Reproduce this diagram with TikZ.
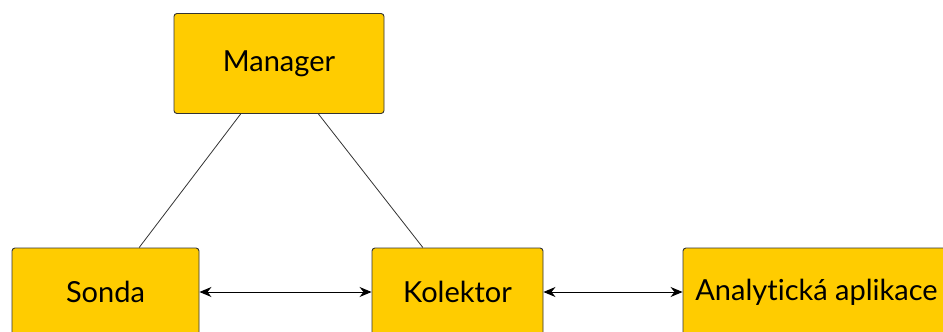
\documentclass[tikz,border=0pt]{standalone}
\usepackage{fontspec}
\setmainfont{Lato}[Ligatures={NoCommon,NoDiscretionary,NoContextual}]
\usetikzlibrary{arrows.meta}
\definecolor{boxfill}{HTML}{FFCC00}
\definecolor{edge}{HTML}{333333}
\begin{document}
\begin{tikzpicture}[x=1pt,y=-1pt,
  box/.style={draw=edge, line width=0.9pt, fill=boxfill, rounded corners=3pt, inner sep=0pt, font=\fontsize{29}{34}\selectfont},
  link/.style={draw=edge, line width=0.8pt},
  biarrow/.style={draw=black, line width=1pt, {Stealth[length=12pt,width=10pt]}-{Stealth[length=12pt,width=10pt]}}]
\useasboundingbox (0,0) rectangle (943,332);
\node[box, minimum width=210pt, minimum height=100pt] (manager) at (279,63.5) {Manager};
\node[box, minimum width=187pt, minimum height=88pt] (sonda) at (105.5,292) {Sonda};
\node[box, minimum width=171pt, minimum height=88pt] (kolektor) at (457.5,292) {Kolektor};
\node[box, minimum width=267pt, minimum height=88pt] (analyt) at (816.5,292) {Analytická aplikace};
\draw[link] (manager) -- (sonda);
\draw[link] (manager) -- (kolektor);
\draw[biarrow] (sonda) -- (kolektor);
\draw[biarrow] (kolektor) -- (analyt);
\end{tikzpicture}
\end{document}
